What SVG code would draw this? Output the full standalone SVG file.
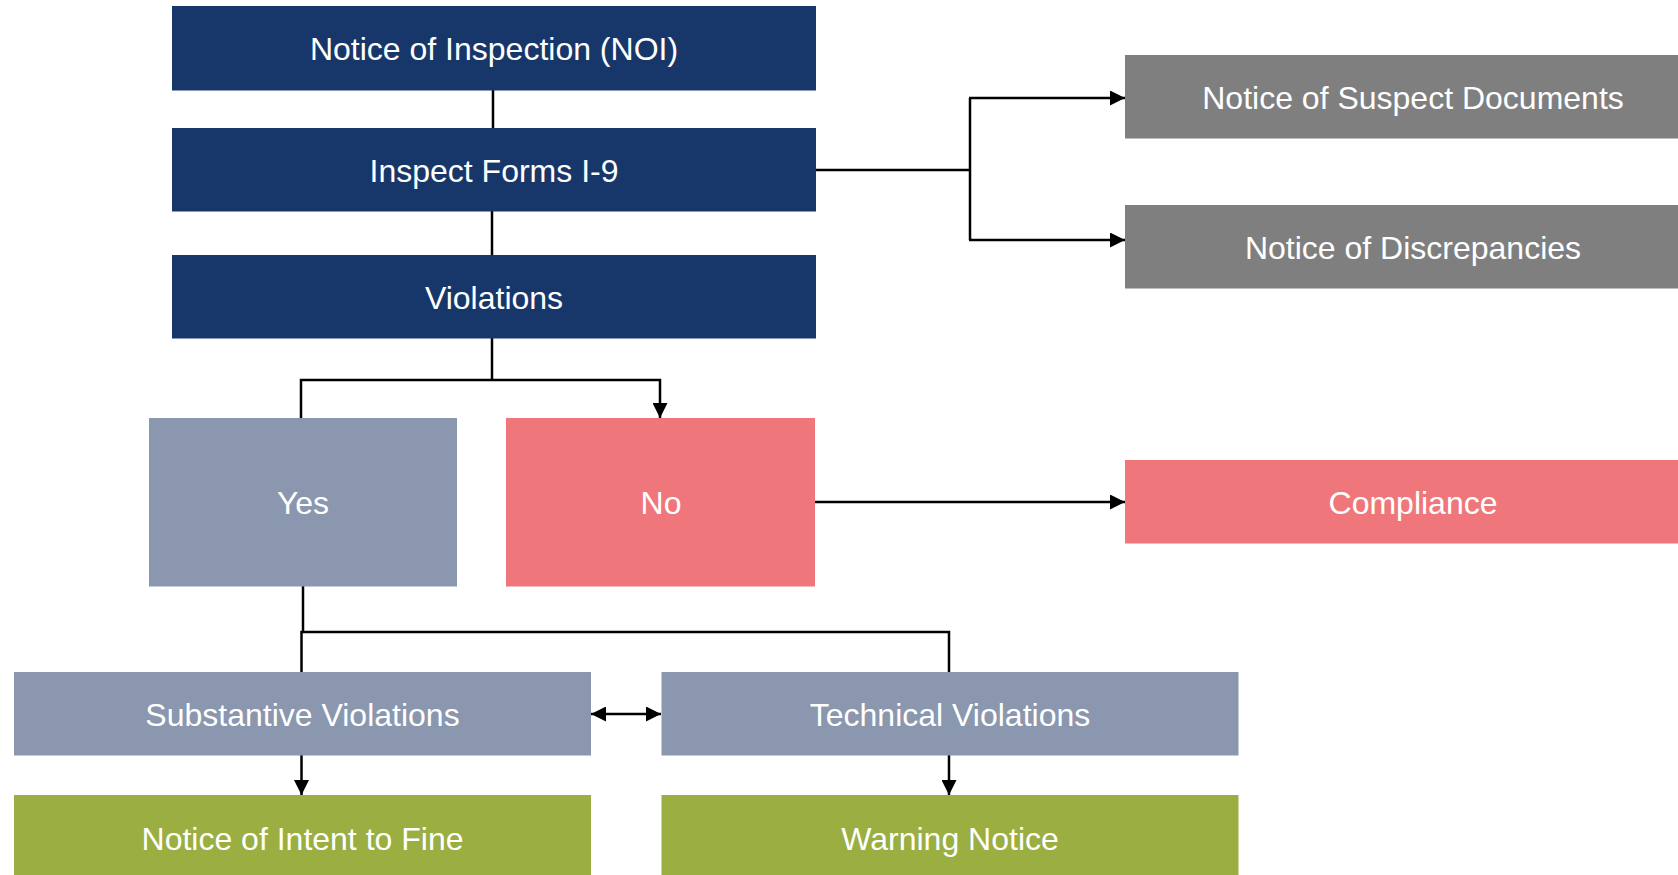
<svg xmlns="http://www.w3.org/2000/svg" width="1678" height="875" viewBox="0 0 1678 875">
<defs>
<style>
.lbl{font-family:"Liberation Sans",Arial,sans-serif;font-size:32px;fill:#fff;text-anchor:middle}
.navy{fill:#17376A}
.gray{fill:#7F7F7F}
.slate{fill:#8A97AE}
.pink{fill:#EF777B}
.olive{fill:#9BAE41}
.ln{fill:none;stroke:#000;stroke-width:2.5}
</style>
<marker id="ah" markerUnits="userSpaceOnUse" markerWidth="16" markerHeight="15" refX="15" refY="7.5" orient="auto-start-reverse" viewBox="0 0 16 15">
<path d="M0,0 L15,7.5 L0,15 Z" fill="#000"/>
</marker>
</defs>
<rect width="1678" height="875" fill="#fff"/>
<g id="connectors">
<path class="ln" d="M493,90 V128"/>
<path class="ln" d="M492,211 V255"/>
<path class="ln" d="M815,170 H970"/>
<path class="ln" d="M970,98 V240"/>
<path class="ln" d="M969,98 H1125" marker-end="url(#ah)"/>
<path class="ln" d="M969,240 H1125" marker-end="url(#ah)"/>
<path class="ln" d="M492,338 V380"/>
<path class="ln" d="M301,418 V380 H660 V418" marker-end="url(#ah)"/>
<path class="ln" d="M814,502 H1125" marker-end="url(#ah)"/>
<path class="ln" d="M303,586 V632"/>
<path class="ln" d="M301.5,672 V632 H949 V672"/>
<path class="ln" d="M591,714 H661" marker-start="url(#ah)" marker-end="url(#ah)"/>
<path class="ln" d="M301.5,755 V795" marker-end="url(#ah)"/>
<path class="ln" d="M949,755 V795" marker-end="url(#ah)"/>
</g>
<g id="noi"><rect class="navy" x="172" y="6" width="644" height="84.5"/><text class="lbl" x="494" y="60">Notice of Inspection (NOI)</text></g>
<g id="inspect"><rect class="navy" x="172" y="128" width="644" height="83.5"/><text class="lbl" x="494" y="182">Inspect Forms I-9</text></g>
<g id="violations"><rect class="navy" x="172" y="255" width="644" height="83.5"/><text class="lbl" x="494" y="309">Violations</text></g>
<g id="suspect"><rect class="gray" x="1125" y="55" width="577" height="83.5"/><text class="lbl" x="1413" y="109">Notice of Suspect Documents</text></g>
<g id="discrepancies"><rect class="gray" x="1125" y="205" width="577" height="83.5"/><text class="lbl" x="1413" y="259">Notice of Discrepancies</text></g>
<g id="yes"><rect class="slate" x="149" y="418" width="308" height="168.5"/><text class="lbl" x="303" y="514">Yes</text></g>
<g id="no"><rect class="pink" x="506" y="418" width="309" height="168.5"/><text class="lbl" x="661" y="514">No</text></g>
<g id="compliance"><rect class="pink" x="1125" y="460" width="577" height="83.5"/><text class="lbl" x="1413" y="514">Compliance</text></g>
<g id="substantive"><rect class="slate" x="14" y="672" width="577" height="83.5"/><text class="lbl" x="302.5" y="726">Substantive Violations</text></g>
<g id="technical"><rect class="slate" x="661.5" y="672" width="577" height="83.5"/><text class="lbl" x="950" y="726">Technical Violations</text></g>
<g id="intent"><rect class="olive" x="14" y="795" width="577" height="85"/><text class="lbl" x="302.5" y="850">Notice of Intent to Fine</text></g>
<g id="warning"><rect class="olive" x="661.5" y="795" width="577" height="85"/><text class="lbl" x="950" y="850">Warning Notice</text></g>
</svg>
